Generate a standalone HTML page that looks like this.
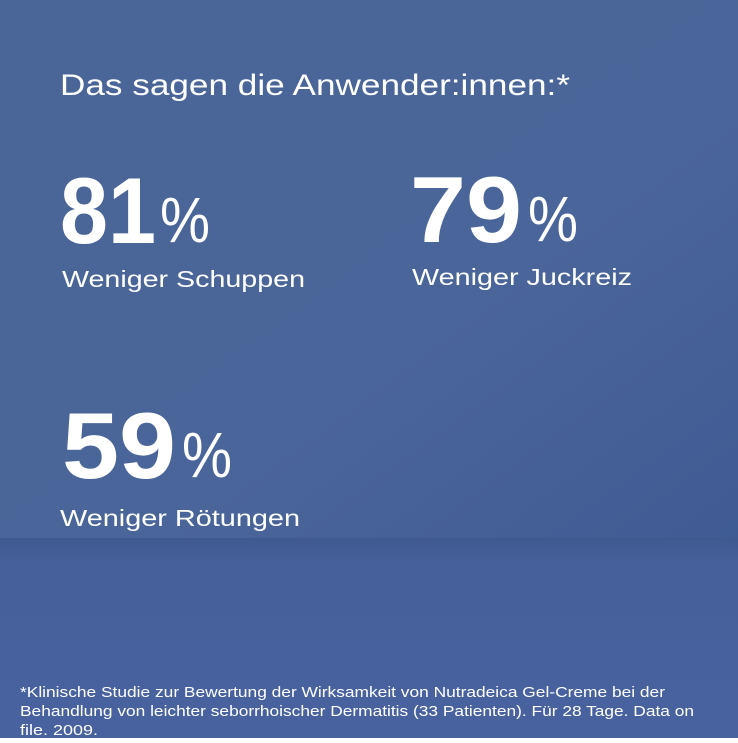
<!DOCTYPE html><html><head><style>html,body{margin:0;padding:0;}body{width:738px;height:738px;overflow:hidden;}</style></head><body>
<svg width="738" height="738" xmlns="http://www.w3.org/2000/svg" font-family="Liberation Sans, sans-serif" fill="#fff">
<defs>
<linearGradient id="top" x1="0" y1="0" x2="1" y2="1"><stop offset="0" stop-color="#4a6597"/><stop offset="0.6" stop-color="#4a6599"/><stop offset="1" stop-color="#405b94"/></linearGradient>
<linearGradient id="bot" x1="0" y1="0" x2="0" y2="1"><stop offset="0" stop-color="#3f5990"/><stop offset="0.12" stop-color="#45609a"/><stop offset="1" stop-color="#4862a0"/></linearGradient>
</defs>
<rect width="738" height="545" fill="url(#top)"/>
<rect y="538" width="738" height="200" fill="url(#bot)"/>
<text x="60" y="95" font-size="30" textLength="510" lengthAdjust="spacingAndGlyphs">Das sagen die Anwender:innen:*</text>
<text x="60" y="243" font-size="94" font-weight="bold" textLength="96" lengthAdjust="spacingAndGlyphs">81</text>
<text x="160" y="242" font-size="64" textLength="50" lengthAdjust="spacingAndGlyphs">%</text>
<text x="62" y="287" font-size="23" textLength="243" lengthAdjust="spacingAndGlyphs">Weniger Schuppen</text>
<text x="410" y="242" font-size="94" font-weight="bold" textLength="112" lengthAdjust="spacingAndGlyphs">79</text>
<text x="528" y="241" font-size="64" textLength="50" lengthAdjust="spacingAndGlyphs">%</text>
<text x="412" y="285" font-size="23" textLength="220" lengthAdjust="spacingAndGlyphs">Weniger Juckreiz</text>
<text x="62" y="478" font-size="94" font-weight="bold" textLength="114" lengthAdjust="spacingAndGlyphs">59</text>
<text x="182" y="477" font-size="64" textLength="50" lengthAdjust="spacingAndGlyphs">%</text>
<text x="60" y="526" font-size="23" textLength="240" lengthAdjust="spacingAndGlyphs">Weniger Rötungen</text>
<text x="20" y="697" font-size="14.5" textLength="645" lengthAdjust="spacingAndGlyphs">*Klinische Studie zur Bewertung der Wirksamkeit von Nutradeica Gel-Creme bei der</text>
<text x="20" y="716" font-size="14.5" textLength="674" lengthAdjust="spacingAndGlyphs">Behandlung von leichter seborrhoischer Dermatitis (33 Patienten). Für 28 Tage. Data on</text>
<text x="20" y="735" font-size="14.5" textLength="78" lengthAdjust="spacingAndGlyphs">file. 2009.</text>
</svg>
</body></html>
